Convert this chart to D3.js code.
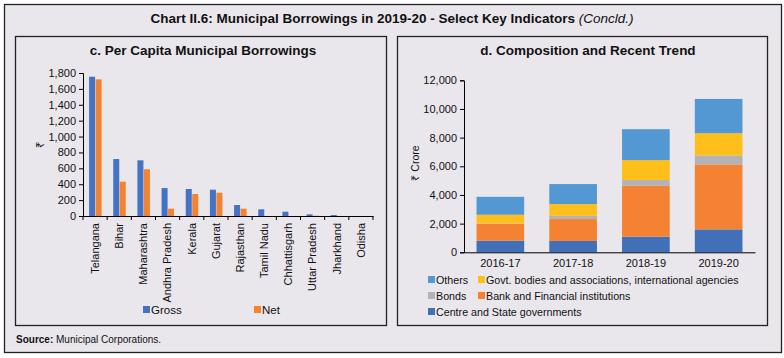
<!DOCTYPE html>
<html><head><meta charset="utf-8">
<script src="https://cdn.jsdelivr.net/npm/d3@7"></script>
<style>
body{margin:0;background:#fff;}
text{font-family:"Liberation Sans",Arial,sans-serif;}
</style></head><body>
<svg id="c" width="784" height="358"></svg>
<script>
const states = ["Telangana","Bihar","Maharashtra","Andhra Pradesh","Kerala","Gujarat","Rajasthan","Tamil Nadu","Chhattisgarh","Uttar Pradesh","Jharkhand","Odisha"];
const gross = [1753,717,701,352,340,331,138,84,54,21,12,0];
const net = [1720,432,588,92,277,293,92,-8,0,3,-8,-8];
const leftTicks = [0,200,400,600,800,1000,1200,1400,1600,1800];

const years = ["2016-17","2017-18","2018-19","2019-20"];
const centreState = [810,790,1090,1600];
const bankFin = [1180,1530,3550,4530];
const bonds = [20,230,400,630];
const govtBodies = [610,815,1390,1550];
const others = [1250,1395,2160,2390];
const rightTicks = [0,2000,4000,6000,8000,10000,12000];

const bg="#E9E7EC";
const svg=d3.select("#c");
svg.append("rect").attr("x",0).attr("y",0).attr("width",784).attr("height",358).attr("fill","#fff");
svg.append("rect").attr("x",4.5).attr("y",4.5).attr("width",777).attr("height",348).attr("fill",bg).attr("stroke","#222").attr("stroke-width",1.3);
svg.append("rect").attr("x",15.5).attr("y",36.5).attr("width",371).attr("height",289).attr("fill",bg).attr("stroke","#222").attr("stroke-width",1.3);
svg.append("rect").attr("x",397.5).attr("y",36.5).attr("width",370).attr("height",289).attr("fill",bg).attr("stroke","#222").attr("stroke-width",1.3);

const t=svg.append("text").attr("x",392).attr("y",23).attr("text-anchor","middle")
 .style("font-family","'Liberation Sans Narrow','Liberation Sans',Arial").style("font-size","13.5px").attr("fill","#111");
t.append("tspan").attr("font-weight","bold").text("Chart II.6: Municipal Borrowings in 2019-20 - Select Key Indicators ");
t.append("tspan").attr("font-style","italic").text("(Concld.)");

svg.append("text").attr("x",203).attr("y",55).attr("text-anchor","middle").attr("font-weight","bold").style("font-size","13.5px").attr("fill","#111").text("c. Per Capita Municipal Borrowings");
svg.append("text").attr("x",588).attr("y",55).attr("text-anchor","middle").attr("font-weight","bold").style("font-size","13.5px").attr("fill","#111").text("d. Composition and Recent Trend");

const src=svg.append("text").attr("x",16).attr("y",343).style("font-size","10px").attr("fill","#111");
src.append("tspan").attr("font-weight","bold").text("Source:");
src.append("tspan").text(" Municipal Corporations.");

// LEFT
const blue="#4472C4", orange="#F5822F";
const x1=d3.scaleBand().domain(states).range([83,373]).paddingInner(0).paddingOuter(0);
const y1=d3.scaleLinear().domain([0,1800]).range([216,73]);
const gL=svg.append("g");
const bw=6;
gL.selectAll(".g").data(states).join("rect").attr("fill",blue)
 .attr("x",d=>x1(d)+x1.bandwidth()/2-bw).attr("width",bw)
 .attr("y",(d,i)=>y1(Math.max(0,gross[i]))).attr("height",(d,i)=>Math.abs(y1(gross[i])-y1(0)));
gL.selectAll(".n").data(states).join("rect").attr("fill",orange)
 .attr("x",d=>x1(d)+x1.bandwidth()/2+0.5).attr("width",bw)
 .attr("y",(d,i)=>y1(Math.max(0,net[i]))).attr("height",(d,i)=>Math.abs(y1(net[i])-y1(0)));
const yA1=gL.append("g").attr("transform","translate(83,0)").call(d3.axisLeft(y1).tickValues(leftTicks).tickSize(4).tickFormat(d3.format(",")));
yA1.selectAll("text").style("font-size","11px").attr("fill","#111");
const xA1=gL.append("g").attr("transform","translate(0,216)").call(d3.axisBottom(x1).tickSize(4).tickSizeOuter(0));
xA1.selectAll(".tick line").attr("transform",`translate(${-x1.bandwidth()/2},0)`);
xA1.append("line").attr("x1",373).attr("x2",373).attr("y1",0).attr("y2",4).attr("stroke","#000");
xA1.selectAll("text").style("font-size","11px").attr("fill","#111").attr("text-anchor","end")
 .attr("transform","rotate(-90)").attr("x",-7).attr("y",0).attr("dy","0.35em");
gL.selectAll(".domain").attr("stroke","#000");
svg.append("text").attr("transform","translate(44,145) rotate(-90)").attr("text-anchor","middle").style("font-size","11px").attr("fill","#111").text("₹");
// legend left
const legL=[["Gross",blue,143],["Net",orange,254]];
legL.forEach(([n,c,x])=>{
 svg.append("rect").attr("x",x).attr("y",306).attr("width",7).attr("height",7).attr("fill",c);
 svg.append("text").attr("x",x+8).attr("y",313.5).style("font-size","11.5px").attr("fill","#111").text(n);
});

// RIGHT
const series=[
 {name:"Centre and State governments",vals:centreState,color:"#4170B8"},
 {name:"Bank and Financial institutions",vals:bankFin,color:"#F58233"},
 {name:"Bonds",vals:bonds,color:"#B3B3B5"},
 {name:"Govt. bodies and associations, international agencies",vals:govtBodies,color:"#FEBF1B"},
 {name:"Others",vals:others,color:"#5498D3"}
];
const rows=years.map((yr,i)=>{const o={year:yr};series.forEach(s=>o[s.name]=s.vals[i]);return o;});
const stack=d3.stack().keys(series.map(s=>s.name))(rows);
const x2=d3.scaleBand().domain(years).range([464,755]).paddingInner(0.345).paddingOuter(0.172);
const y2=d3.scaleLinear().domain([0,12000]).range([252.3,80.3]);
const gR=svg.append("g");
stack.forEach((layer,k)=>{
 gR.selectAll(".l"+k).data(layer).join("rect").attr("fill",series[k].color)
  .attr("x",d=>x2(d.data.year)).attr("width",x2.bandwidth())
  .attr("y",d=>y2(d[1])).attr("height",d=>y2(d[0])-y2(d[1]));
});
const yA2=gR.append("g").attr("transform","translate(464,0)").call(d3.axisLeft(y2).tickValues(rightTicks).tickSize(4).tickFormat(d3.format(",")));
yA2.selectAll("text").style("font-size","11px").attr("fill","#111");
const xA2=gR.append("g").attr("transform","translate(0,252.3)").call(d3.axisBottom(x2).tickSize(0).tickSizeOuter(0));
xA2.selectAll("text").style("font-size","11px").attr("fill","#111").attr("dy","1.1em");
gR.selectAll(".domain").attr("stroke","#000");
svg.append("text").attr("transform","translate(419,163) rotate(-90)").attr("text-anchor","middle").style("font-size","10.5px").attr("fill","#111").text("₹ Crore");
// legend right
const legR=[["Others",4,428,280],["Govt. bodies and associations, international agencies",3,478,280],["Bonds",2,428,296],["Bank and Financial institutions",1,478,296],["Centre and State governments",0,428,312]];
legR.forEach(([n,k,x,y])=>{
 svg.append("rect").attr("x",x).attr("y",y-4).attr("width",7).attr("height",7).attr("fill",series[k].color);
 svg.append("text").attr("x",x+8).attr("y",y+3.5).style("font-size","10.7px").attr("fill","#111").text(n);
});
</script></body></html>
